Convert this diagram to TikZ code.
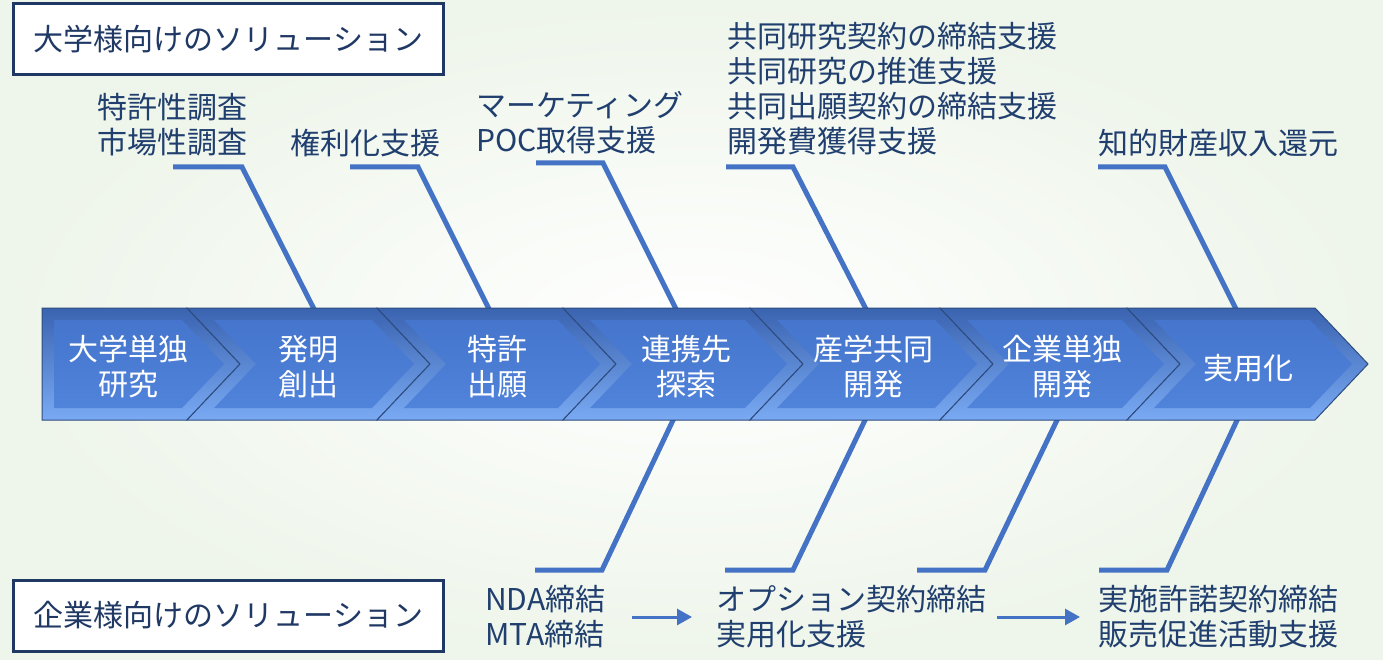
\documentclass[tikz,border=0pt]{standalone}
\usepackage{fontspec}
\setmainfont{Noto Sans CJK JP}
\usetikzlibrary{arrows.meta}
\definecolor{navy}{HTML}{1F3864}
\definecolor{txtblue}{HTML}{203F6F}
\definecolor{lineblue}{HTML}{4472C4}
\definecolor{bevtop}{HTML}{3A63B0}
\definecolor{bevbot}{HTML}{7AAAF4}
\definecolor{facetop}{HTML}{4575CC}
\definecolor{facebot}{HTML}{5083DA}
\definecolor{edgecol}{HTML}{2E4C7E}
\definecolor{bgout}{HTML}{EEF5EA}
\newcommand\notchchev[2]{%
  \shade[top color=bevtop,bottom color=bevbot,draw=edgecol,line width=1pt]
    (#1,308) -- (#2,308) -- ({#2+53},364) -- (#2,420) -- (#1,420) -- ({#1+53},364) -- cycle;
  \shade[top color=facetop,bottom color=facebot]
    ({#1+27},320) -- ({#2-5},320) -- ({#2+37},364) -- ({#2-5},408) -- ({#1+27},408) -- ({#1+69},364) -- cycle;}
\begin{document}
\begin{tikzpicture}[x=1pt,y=-1pt,
  lbl/.style={font=\fontsize{30}{35}\selectfont, text=txtblue, align=left, inner sep=0pt, anchor=west},
  chevtext/.style={font=\fontsize{30}{35}\selectfont, text=white, align=center, inner sep=0pt},
  titlebox/.style={draw=navy, line width=3pt, fill=white, minimum width=430pt, minimum height=71pt, inner sep=0pt, font=\fontsize{30}{35}\selectfont, text=navy},
  fishline/.style={draw=lineblue, line width=5pt},
  flow/.style={draw=lineblue, line width=3pt, -{Triangle[length=15pt,width=16pt]}}]
\useasboundingbox (0,0) rectangle (1383,660);
\shade[inner color=white, outer color=bgout] (0,0) rectangle (1383,660);

% title boxes
\node[titlebox] (univ) at (228.5,39.5) {大学様向けのソリューション};
\node[titlebox] (corp) at (228.5,615.5) {企業様向けのソリューション};

% connector end points
\coordinate (u1s) at (173,167); \coordinate (u1k) at (242,167); \coordinate (u1e) at (315.5,312);
\coordinate (u2s) at (350,167); \coordinate (u2k) at (418,167); \coordinate (u2e) at (490.5,312);
\coordinate (u3s) at (536,163); \coordinate (u3k) at (603,163); \coordinate (u3e) at (677.5,312);
\coordinate (u4s) at (726,167); \coordinate (u4k) at (793,167); \coordinate (u4e) at (867.5,312);
\coordinate (u5s) at (1098,167); \coordinate (u5k) at (1165,167); \coordinate (u5e) at (1237.5,312);
\coordinate (d1s) at (675,416); \coordinate (d1k) at (602,570); \coordinate (d1e) at (535,570);
\coordinate (d2s) at (867,416); \coordinate (d2k) at (793,570); \coordinate (d2e) at (725,570);
\coordinate (d3s) at (1059,416); \coordinate (d3k) at (985,570); \coordinate (d3e) at (917,570);
\coordinate (d4s) at (1239,416); \coordinate (d4k) at (1167,570); \coordinate (d4e) at (1099,570);

\draw[fishline] (u1s) -- (u1k) -- (u1e);
\draw[fishline] (u2s) -- (u2k) -- (u2e);
\draw[fishline] (u3s) -- (u3k) -- (u3e);
\draw[fishline] (u4s) -- (u4k) -- (u4e);
\draw[fishline] (u5s) -- (u5k) -- (u5e);
\draw[fishline] (d1s) -- (d1k) -- (d1e);
\draw[fishline] (d2s) -- (d2k) -- (d2e);
\draw[fishline] (d3s) -- (d3k) -- (d3e);
\draw[fishline] (d4s) -- (d4k) -- (d4e);

% chevron band
\shade[top color=bevtop,bottom color=bevbot,draw=edgecol,line width=1pt]
  (42,308) -- (187,308) -- (240,364) -- (187,420) -- (42,420) -- cycle;
\shade[top color=facetop,bottom color=facebot]
  (54,320) -- (182,320) -- (224,364) -- (182,408) -- (54,408) -- cycle;
\notchchev{187}{377}
\notchchev{377}{563}
\notchchev{563}{750}
\notchchev{750}{940}
\notchchev{940}{1127}
\notchchev{1127}{1315}

\node[chevtext] (c1) at (128,367) {大学単独\\研究};
\node[chevtext] (c2) at (308,367) {発明\\創出};
\node[chevtext] (c3) at (497,367) {特許\\出願};
\node[chevtext] (c4) at (686,367) {連携先\\探索};
\node[chevtext] (c5) at (873,367) {産学共同\\開発};
\node[chevtext] (c6) at (1062,367) {企業単独\\開発};
\node[chevtext] (c7) at (1248,368) {実用化};

% labels
\node[lbl] (p1) at (97,125) {特許性調査\\市場性調査};
\node[lbl] (p2) at (290,143) {権利化支援};
\node[lbl] (p3) at (476,123) {マーケティング\\POC取得支援};
\node[lbl] (p4) at (727,89) {共同研究契約の締結支援\\共同研究の推進支援\\共同出願契約の締結支援\\開発費獲得支援};
\node[lbl] (p5) at (1098,143) {知的財産収入還元};
\node[lbl] (q1) at (485,617) {NDA締結\\MTA締結};
\node[lbl] (q2) at (716,617) {オプション契約締結\\実用化支援};
\node[lbl] (q3) at (1098,617) {実施許諾契約締結\\販売促進活動支援};

\draw[flow, shorten <=26pt, shorten >=24pt] (q1.east) -- (q2.west);
\draw[flow, shorten <=11pt, shorten >=18pt] (q2.east) -- (q3.west);
\end{tikzpicture}
\end{document}
